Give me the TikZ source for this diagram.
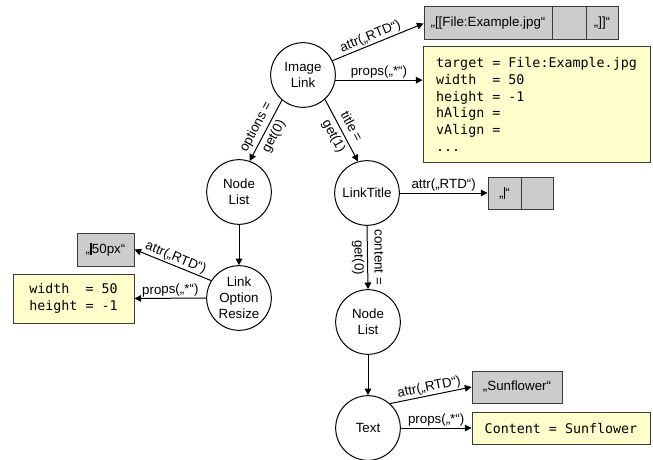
\documentclass[tikz,border=0pt]{standalone}
\usepackage{fontspec}
\setmainfont{Liberation Sans}
\setmonofont{DejaVu Sans Mono}
\usetikzlibrary{arrows.meta,calc}
\definecolor{boxgray}{RGB}{204,204,204}
\definecolor{boxyellow}{RGB}{255,255,204}
\definecolor{edgegray}{RGB}{60,60,60}
\newcommand{\cursorbar}{\rule[-1.5pt]{1.4pt}{9.5pt}}
\begin{document}
\begin{tikzpicture}[x=0.75pt,y=-0.75pt,
  every node/.style={font=\fontsize{10}{12}\selectfont},
  ast/.style={circle,draw=black,line width=0.75pt,minimum size=48.5pt,inner sep=0pt,align=center,fill=white},
  graybox/.style={draw=edgegray,fill=boxgray,line width=0.75pt,minimum height=24.5pt,inner sep=0pt},
  yellowbox/.style={draw=edgegray,fill=boxyellow,line width=0.75pt,inner sep=0pt,font=\ttfamily\fontsize{10}{12.5}\selectfont,align=left},
  conn/.style={line width=0.75pt,-{Triangle[length=5pt,width=5pt]}},
  lbl/.style={above,sloped,inner sep=0.8pt},
  twolbl/.style={align=center,inner sep=0pt,font=\fontsize{10}{15}\selectfont}
]
\useasboundingbox (0,0) rectangle (653,460);

% AST nodes
\node[ast] (il) at (303,75) {Image\\Link};
\node[ast] (nla) at (239,192) {Node\\List};
\node[ast] (lor) at (239,298) {Link\\Option\\Resize};
\node[ast] (lt) at (367,193) {LinkTitle};
\node[ast] (nlb) at (368,322) {Node\\List};
\node[ast] (txt) at (368,428) {Text};

% boxes
\node[graybox,minimum width=96pt,minimum height=24.75pt] (fa) at (488,23.5) {„[[File:Example.jpg“};
\node[graybox,minimum width=25.5pt,minimum height=24.75pt] (fb) at (569,23.5) {};
\node[graybox,minimum width=24pt,minimum height=24.75pt] (fc) at (602,23.5) {„]]“};

\node[yellowbox,minimum width=170.25pt,minimum height=86.25pt,inner xsep=9pt] (props1) at (536.5,104.5)
  {target = File:Example.jpg\\width\ \ = 50\\height = -1\\hAlign =\\vAlign =\\...};

\node[graybox,minimum width=42.75pt,minimum height=24.75pt] (px) at (105.5,249.5) {„\cursorbar 50px“};
\node[yellowbox,minimum width=90.75pt,minimum height=36.75pt,inner xsep=6pt] (props2) at (73.5,298.5)
  {width\ \ = 50\\height = -1};

\node[graybox,minimum width=24.75pt,minimum height=24pt] (lta) at (504.5,193) {„\cursorbar“};
\node[graybox,minimum width=24pt,minimum height=24pt] (ltb) at (537,193) {};

\node[graybox,minimum width=67.5pt,minimum height=24pt] (sg) at (517,387) {„Sunflower“};
\node[yellowbox,minimum width=133.5pt,minimum height=24pt] (sy) at (561,428) {Content = Sunflower};

% connectors
\draw[conn] (il.26) -- node[lbl,pos=0.45] {attr(„RTD“)} (fa.west);
\draw[conn] (il.-9) -- node[lbl] {props(„*“)} (il.-9 -| props1.west);
\draw[conn] (il.230) -- node[twolbl,sloped,pos=0.52] {options =\\get(0)} (nla.71);
\draw[conn] (il.-48) -- node[twolbl,sloped,pos=0.52] {title =\\get(1)} (lt.106);
\draw[conn] (nla.south) -- (lor.north);
\draw[conn] (lor.148) -- node[lbl] {attr(„RTD“)} (px.east);
\draw[conn] (lor.west) -- node[lbl] {props(„*“)} (props2.east);
\draw[conn] (lt.east) -- node[lbl] {attr(„RTD“)} (lta.west);
\draw[conn] (lt.south) -- node[twolbl,midway,rotate=-90] {content =\\get(0)} (nlb.north);
\draw[conn] (nlb.south) -- (txt.north);
\draw[conn] (txt.48) -- node[lbl] {attr(„RTD“)} (sg.west);
\draw[conn] (txt.east) -- node[lbl] {props(„*“)} (sy.west);
\end{tikzpicture}
\end{document}
